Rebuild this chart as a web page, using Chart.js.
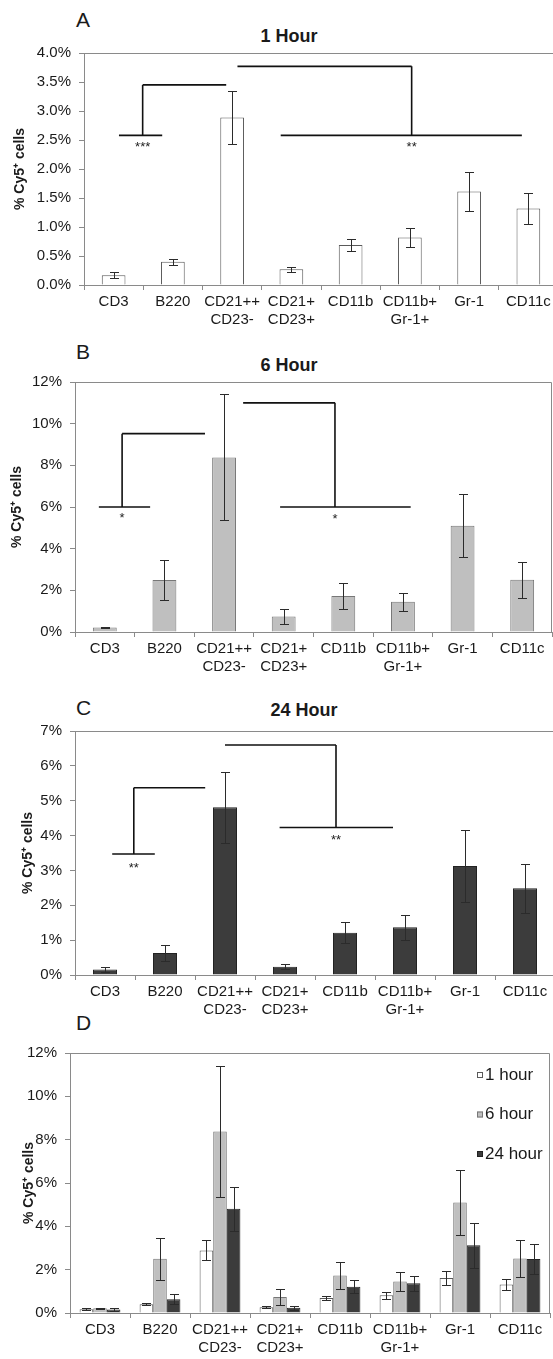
<!DOCTYPE html>
<html lang="en">
<head>
<meta charset="UTF-8">
<title>% Cy5+ cells by cell population</title>
<script src="https://cdn.jsdelivr.net/npm/chart.js@4.4.1/dist/chart.umd.min.js"></script>
<style>
  html, body { margin: 0; padding: 0; background: #fff; overflow: hidden; }
  body { width: 553px; height: 1359px; position: relative; font-family: 'Liberation Sans', Arial, sans-serif; color: #1a1a1a; }
  .panel { position: absolute; left: 0; }
  .letter { position: absolute; left: 76px; font-size: 21px; line-height: 21px; }
  .title { position: absolute; width: 200px; text-align: center; font-weight: bold; font-size: 18px; line-height: 18px; }
</style>
</head>
<body>
  <!-- panel letters and titles -->
  <div class="letter" style="top:9px">A</div>
  <div class="title" style="top:27px; left:189px">1 Hour</div>
  <div class="letter" style="top:341px">B</div>
  <div class="title" style="top:356px; left:189px">6 Hour</div>
  <div class="letter" style="top:697px">C</div>
  <div class="title" style="top:701px; left:204px">24 Hour</div>
  <div class="letter" style="top:1012px">D</div>

  <canvas class="panel" id="chartA" width="560" height="340" style="top:0px"></canvas>
  <canvas class="panel" id="chartB" width="560" height="350" style="top:330px"></canvas>
  <canvas class="panel" id="chartC" width="560" height="340" style="top:680px"></canvas>
  <canvas class="panel" id="chartD" width="560" height="339" style="top:1020px"></canvas>

<script>
// cell populations (x categories)
const cellTypes = ['CD3', 'B220', ['CD21++', 'CD23-'], ['CD21+', 'CD23+'], 'CD11b', ['CD11b+', 'Gr-1+'], 'Gr-1', 'CD11c'];

// % Cy5+ cells, mean and error
const hour1 = [0.17, 0.40, 2.89, 0.27, 0.69, 0.82, 1.61, 1.32];
const hour1Err = [0.05, 0.05, 0.46, 0.04, 0.10, 0.16, 0.33, 0.27];
const hour6 = [0.22, 2.50, 8.38, 0.74, 1.73, 1.45, 5.10, 2.51];
const hour6Err = [0.03, 0.97, 3.02, 0.36, 0.64, 0.44, 1.52, 0.86];
const hour24 = [0.16, 0.63, 4.81, 0.24, 1.21, 1.37, 3.13, 2.49];
const hour24Err = [0.06, 0.23, 1.01, 0.08, 0.30, 0.36, 1.03, 0.70];

// significance brackets, in category index / % units
// base = [from, to, level], top = [from, to, level], stem = category pos, mark = stars + level
const sigA = [
  { base: [0.09, 0.82, 2.58], top: [0.49, 1.90, 3.45], stem: 0.49, mark: ['***', 2.38] },
  { base: [2.82, 6.89, 2.58], top: [2.09, 5.03, 3.77], stem: 5.03, mark: ['**', 2.38] }
];
const sigB = [
  { base: [-0.10, 0.76, 6.0], top: [0.29, 1.68, 9.52], stem: 0.29, mark: ['*', 5.45] },
  { base: [2.94, 5.13, 6.0], top: [2.32, 3.86, 11.0], stem: 3.86, mark: ['*', 5.42] }
];
const sigC = [
  { base: [0.12, 0.83, 3.47], top: [0.48, 1.67, 5.37], stem: 0.48, mark: ['**', 3.06] },
  { base: [2.91, 4.80, 4.23], top: [2.00, 3.85, 6.60], stem: 3.85, mark: ['**', 3.87] }
];

Chart.defaults.font.family = "'Liberation Sans', Arial, Helvetica, sans-serif";
Chart.defaults.color = '#1a1a1a';

const axisGray = '#8a8a8a';

// top and right border of the plot area
const plotFrame = {
  id: 'plotFrame',
  afterDraw(chart) {
    const { ctx, chartArea: a } = chart;
    ctx.save();
    ctx.strokeStyle = axisGray;
    ctx.lineWidth = 1;
    ctx.beginPath();
    ctx.moveTo(a.left, a.top + 0.5);
    ctx.lineTo(a.right - 0.5, a.top + 0.5);
    ctx.lineTo(a.right - 0.5, a.bottom);
    ctx.stroke();
    ctx.restore();
  }
};

// +/- error bars with caps
const errorBars = {
  id: 'errorBars',
  afterDatasetsDraw(chart) {
    const ctx = chart.ctx;
    const y = chart.scales.y;
    ctx.save();
    ctx.strokeStyle = '#2b2b2b';
    ctx.lineWidth = 1;
    chart.data.datasets.forEach((ds, di) => {
      if (!ds.errors) return;
      chart.getDatasetMeta(di).data.forEach((bar, i) => {
        const x = Math.round(bar.x) + 0.5;
        const yt = Math.round(y.getPixelForValue(ds.data[i] + ds.errors[i])) + 0.5;
        const yb = Math.round(y.getPixelForValue(Math.max(ds.data[i] - ds.errors[i], 0))) + 0.5;
        ctx.beginPath();
        ctx.moveTo(x, yt); ctx.lineTo(x, yb);
        ctx.moveTo(x - 4.5, yt); ctx.lineTo(x + 4.5, yt);
        ctx.moveTo(x - 4.5, yb); ctx.lineTo(x + 4.5, yb);
        ctx.stroke();
      });
    });
    ctx.restore();
  }
};

// significance brackets and stars
const sigBrackets = {
  id: 'sigBrackets',
  afterDraw(chart, args, opts) {
    const items = opts.items || [];
    if (!items.length) return;
    const { ctx, scales: { x, y } } = chart;
    ctx.save();
    ctx.strokeStyle = '#111';
    ctx.lineWidth = 1.6;
    items.forEach(b => {
      const px = v => x.getPixelForValue(v);
      const py = v => y.getPixelForValue(v);
      ctx.beginPath();
      ctx.moveTo(px(b.base[0]), py(b.base[2]));
      ctx.lineTo(px(b.base[1]), py(b.base[2]));
      ctx.moveTo(px(b.top[0]), py(b.top[2]));
      ctx.lineTo(px(b.top[1]), py(b.top[2]));
      ctx.moveTo(px(b.stem), py(b.top[2]));
      ctx.lineTo(px(b.stem), py(b.base[2]));
      ctx.stroke();
      ctx.fillStyle = '#222';
      ctx.font = "13px 'Liberation Sans', Arial, sans-serif";
      ctx.textAlign = 'center';
      ctx.textBaseline = 'middle';
      ctx.fillText(b.mark[0], px(b.stem), py(b.mark[1]));
    });
    ctx.restore();
  }
};

// legend inside the plot area of the combined panel
const hourLegend = {
  id: 'hourLegend',
  afterDraw(chart, args, opts) {
    if (!opts.show) return;
    const { ctx, chartArea: a } = chart;
    ctx.save();
    ctx.font = "17px 'Liberation Sans', Arial, sans-serif";
    ctx.textBaseline = 'middle';
    ctx.textAlign = 'left';
    chart.data.datasets.forEach((ds, i) => {
      const cy = a.top + 22 + i * 39.5;
      const bx = a.right - 73;
      ctx.fillStyle = ds.backgroundColor;
      ctx.fillRect(bx, cy - 3, 6, 6);
      ctx.strokeStyle = ds.borderColor;
      ctx.lineWidth = 1;
      ctx.strokeRect(bx + 0.5, cy - 2.5, 5, 5);
      ctx.fillStyle = '#1a1a1a';
      ctx.fillText(ds.label, bx + 8, cy);
    });
    ctx.restore();
  }
};

function series(label, data, errors, fill, border, barPct, catPct) {
  return {
    label, data, errors,
    backgroundColor: fill,
    borderColor: border,
    borderWidth: 1,
    barPercentage: barPct,
    categoryPercentage: catPct
  };
}

function buildChart(id, o) {
  return new Chart(document.getElementById(id), {
    type: 'bar',
    data: { labels: cellTypes, datasets: o.datasets },
    options: {
      responsive: false,
      animation: false,
      devicePixelRatio: 1,
      layout: { padding: { top: o.padTop, right: o.padRight, left: 0, bottom: 0 } },
      plugins: {
        legend: { display: false },
        tooltip: { enabled: false },
        sigBrackets: { items: o.brackets || [] },
        hourLegend: { show: !!o.legend }
      },
      scales: {
        x: {
          grid: { offset: true, drawOnChartArea: false, tickLength: 5, color: axisGray },
          border: { color: axisGray },
          ticks: { font: { size: 15 }, padding: 3, maxRotation: 0, autoSkip: false, color: '#1a1a1a' },
          afterFit: s => { s.height = o.xHeight; }
        },
        y: {
          min: 0,
          max: o.yMax,
          grid: { drawOnChartArea: false, tickLength: 5, color: axisGray },
          border: { color: axisGray },
          ticks: {
            stepSize: o.yStep,
            padding: 8,
            font: { size: 15 },
            color: '#1a1a1a',
            callback: v => v.toFixed(o.decimals) + '%'
          },
          title: {
            display: true,
            text: '% Cy5⁺ cells',
            font: { size: 14, weight: 'bold' },
            color: '#1a1a1a',
            padding: { top: o.titlePad, bottom: 0 }
          },
          afterFit: s => { s.width = o.yWidth; }
        }
      }
    },
    plugins: [plotFrame, errorBars, sigBrackets, hourLegend]
  });
}

buildChart('chartA', {
  datasets: [series('1 hour', hour1, hour1Err, '#ffffff', '#5a5a5a', 0.4, 1)],
  padTop: 53, padRight: 2, xHeight: 55, yWidth: 84, titlePad: 11.5,
  yMax: 4, yStep: 0.5, decimals: 1, brackets: sigA
});

buildChart('chartB', {
  datasets: [series('6 hour', hour6, hour6Err, '#bfbfbf', '#777777', 0.4, 1)],
  padTop: 52, padRight: 8, xHeight: 48, yWidth: 75, titlePad: 8.5,
  yMax: 12, yStep: 2, decimals: 0, brackets: sigB
});

buildChart('chartC', {
  datasets: [series('24 hour', hour24, hour24Err, '#3c3c3c', '#222222', 0.4, 1)],
  padTop: 51, padRight: 5, xHeight: 45, yWidth: 75, titlePad: 19.5,
  yMax: 7, yStep: 1, decimals: 0, brackets: sigC
});

buildChart('chartD', {
  datasets: [
    series('1 hour', hour1, hour1Err, '#ffffff', '#5a5a5a', 1, 0.68),
    series('6 hour', hour6, hour6Err, '#bfbfbf', '#777777', 1, 0.68),
    series('24 hour', hour24, hour24Err, '#3c3c3c', '#222222', 1, 0.68)
  ],
  padTop: 33, padRight: 10, xHeight: 46, yWidth: 70, titlePad: 20.5,
  yMax: 12, yStep: 2, decimals: 0, legend: true
});
</script>
</body>
</html>
